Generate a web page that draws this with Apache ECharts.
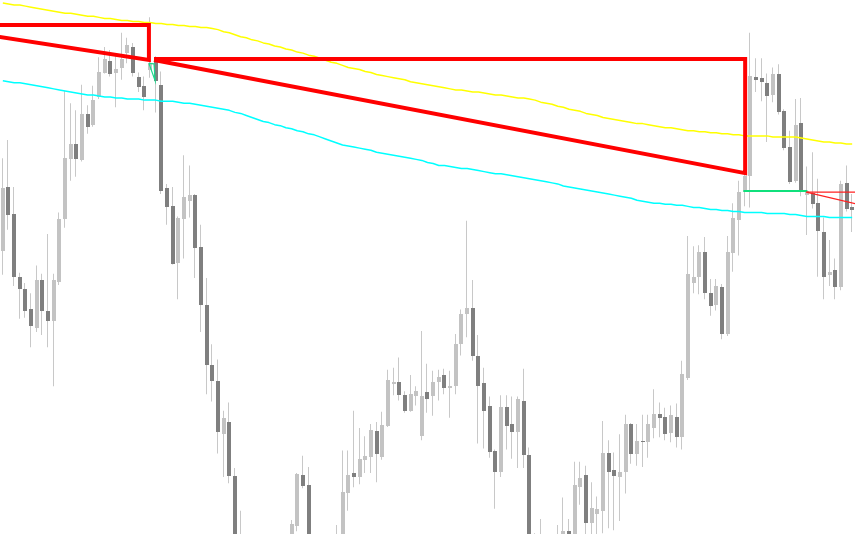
<!DOCTYPE html>
<html><head><meta charset="utf-8">
<script src="https://cdn.jsdelivr.net/npm/echarts@6/dist/echarts.min.js"></script>
<style>html,body{margin:0;padding:0;background:#fff}#c{width:855px;height:534px}</style>
</head><body><div id="c"></div>
<script>
// OHLC prices (points), one entry per bar
const barOpen = [754,817,791,729,717,698,679,726,696,686,
724,786,844,859,843,888,878,905,929,940,
929,933,948,954,925,916,931,943,917,816,
798,743,786,803,809,758,701,643,627,575,
587,534,470,445,430,440,425,435,420,438,
450,472,485,535,525,470,455,462,450,465,
472,517,537,533,550,553,578,553,583,624,
626,613,598,612,573,616,612,626,633,620,
622,663,693,699,652,625,603,559,538,602,
585,577,607,555,465,445,460,450,462,476,
480,470,523,535,488,497,500,557,540,533,
538,585,556,568,567,581,595,592,576,592,
572,630,723,729,753,713,701,719,673,752,
785,812,828,925,924,919,907,928,891,856,
823,880,809,811,801,773,731,736,719,821,
797];
const barClose = [816,790,729,717,696,681,726,696,686,726,
786,845,859,844,888,876,902,930,942,928,
932,942,956,929,915,905,938,921,813,797,
742,787,807,809,757,701,643,627,577,591,
534,470,445,430,440,425,435,420,438,450,
470,487,536,524,470,455,462,450,465,472,
518,535,533,551,554,579,556,584,628,626,
613,598,614,617,612,609,626,631,620,622,
663,693,699,652,622,598,558,538,602,583,
577,609,555,465,445,460,450,462,470,480,
477,525,532,488,503,502,557,538,534,538,
585,556,568,567,585,595,591,575,594,572,
634,732,729,753,713,700,720,673,753,787,
812,828,926,922,920,906,928,890,855,822,
878,812,813,800,774,729,734,719,820,795,
794];
const barLow = [731,775,720,688,689,660,675,672,660,622,
721,777,823,827,842,869,876,903,928,925,
895,922,938,925,910,892,924,890,810,780,
741,707,747,787,728,675,614,607,556,533,
527,460,435,420,415,410,412,405,410,430,
445,465,480,522,460,445,440,440,445,455,
465,500,523,526,537,537,528,550,582,613,
608,596,597,603,569,596,593,608,614,591,
614,652,670,647,566,561,552,502,533,560,
551,542,542,455,440,430,440,440,455,466,
468,462,506,468,466,477,478,483,481,490,
517,546,544,543,552,571,572,569,567,562,
560,628,713,712,707,691,696,668,671,734,
750,798,797,910,901,861,900,888,853,820,
821,808,770,796,729,707,720,707,716,793,
773];
const barHigh = [845,863,817,733,723,713,740,732,771,732,
792,911,899,892,917,897,916,944,954,951,
946,968,963,958,929,925,983,945,930,820,
817,788,848,838,810,780,728,663,648,598,
606,542,500,460,455,450,448,446,452,462,
474,491,537,554,543,474,470,472,474,486,
559,559,598,581,573,585,587,597,638,640,
650,617,633,622,676,644,637,638,639,637,
673,697,784,726,672,640,612,560,613,613,
612,612,639,562,478,492,470,472,486,513,
492,548,548,544,528,514,588,569,557,575,
594,586,585,594,594,619,606,601,603,605,
647,769,759,760,768,727,727,722,769,801,
823,840,968,943,943,928,934,937,893,872,
903,904,837,851,825,787,765,747,823,838,
810];
// moving averages
const maSlow = [997,996,995,995,994,993,992,991,990,989,
988,987,987,986,985,984,984,983,982,982,
981,980,980,979,979,978,978,977,977,976,
976,975,975,974,974,973,973,972,971,969,
968,966,964,963,961,960,958,957,955,954,
952,951,949,948,946,945,943,941,939,938,
936,934,933,932,930,929,927,926,925,924,
923,922,920,919,918,917,916,915,914,913,
912,912,911,910,910,909,908,907,907,906,
905,904,904,903,902,900,899,898,896,895,
893,892,891,889,888,887,885,884,883,882,
881,880,879,879,878,877,876,875,875,874,
873,872,872,871,871,870,870,869,869,868,
868,867,867,867,867,867,866,866,866,866,
866,865,864,863,862,861,861,860,860,859,
859];
const maFast = [921,920,919,919,918,917,916,915,914,913,
912,911,910,909,908,907,907,906,905,905,
904,904,903,903,903,902,902,902,901,901,
901,900,899,899,898,897,896,895,894,893,
892,890,889,887,885,883,881,880,878,877,
875,874,872,871,869,868,866,864,862,860,
858,857,856,855,854,853,851,850,849,848,
847,846,845,844,843,841,840,838,838,837,
836,835,835,834,833,832,831,830,830,829,
828,827,826,825,824,823,822,821,820,818,
817,816,815,814,813,812,811,810,809,808,
807,806,804,803,802,801,801,800,800,799,
799,798,797,797,796,795,795,794,794,793,
793,792,792,792,792,791,791,791,791,790,
790,789,788,788,788,788,787,787,787,787,
787];
const categories = barOpen.map((_, i) => 'Bar ' + (i + 1));
// drawn objects, vertices as [bar index, price]
const shapeLeft = [[-1, 964.2], [25.8, 941.3], [25.8, 975.5], [-1, 975.5]];
const shapeRight = [[26.7, 942.3], [131.1, 942.3], [131.1, 830.5], [26.7, 941.3]];
const greenTriangle = [[25.8, 938], [26.7, 937.5], [26.9, 921], [25.8, 938]];
const greenLevel = [[130.8, 813], [142.1, 813]];
const redLevel = [[141.9, 812], [151, 812]];
const redSlope = [[141.9, 812], [151, 800]];

const candles = barOpen.map((o, i) => [i, o, barClose[i], barLow[i], barHigh[i]]);
const chart = echarts.init(document.getElementById('c'), null, {renderer: 'canvas'});
const lineS = (data, color, width, z) => ({
  type: 'line', xAxisIndex: 1, data, symbol: 'none', z, silent: true,
  lineStyle: {color, width, join: 'miter', cap: 'butt'}, animation: false
});
chart.setOption({
  backgroundColor: '#ffffff',
  animation: false,
  grid: {left: 0, right: 0, top: 0, bottom: 0},
  xAxis: [
    {type: 'category', data: categories, show: false, boundaryGap: true},
    {type: 'value', min: -0.5, max: 150.5, show: false}
  ],
  yAxis: {type: 'value', min: 477.3, max: 1000, show: false},
  series: [
    {
      type: 'custom', clip: true, z: 1, data: candles,
      encode: {x: 0, y: [1, 2, 3, 4]},
      renderItem: function (params, api) {
        const idx = api.value(0), o = api.value(1), c = api.value(2), l = api.value(3), h = api.value(4);
        const pO = api.coord([idx, o]), pC = api.coord([idx, c]);
        const pL = api.coord([idx, l]), pH = api.coord([idx, h]);
        const cx = Math.round(pO[0]);
        const top = Math.round(Math.min(pO[1], pC[1]));
        const bot = Math.round(Math.max(pO[1], pC[1]));
        const up = c >= o;
        return {type: 'group', children: [
          {type: 'rect', shape: {x: cx - 1, y: pH[1], width: 1, height: pL[1] - pH[1]},
           style: {fill: '#c8c8c8'}},
          {type: 'rect', shape: {x: cx - 2, y: top, width: 4, height: Math.max(1, bot - top)},
           style: {fill: up ? '#c3c3c3' : '#7f7f7f'}}
        ]};
      }
    },
    {type: 'line', data: maSlow, symbol: 'none', z: 2, lineStyle: {color: '#ffff00', width: 1.5}},
    {type: 'line', data: maFast, symbol: 'none', z: 2, lineStyle: {color: '#00ffff', width: 1.5}},
    lineS(shapeLeft, '#ff0000', 4, 3),
    lineS(shapeRight, '#ff0000', 4, 3),
    lineS(greenTriangle, '#19d98c', 1.2, 3),
    lineS(greenLevel, '#10e07c', 2, 3),
    lineS(redLevel, '#ff2020', 1.2, 3),
    lineS(redSlope, '#ff2020', 1.2, 3)
  ]
});
</script>
</body></html>
